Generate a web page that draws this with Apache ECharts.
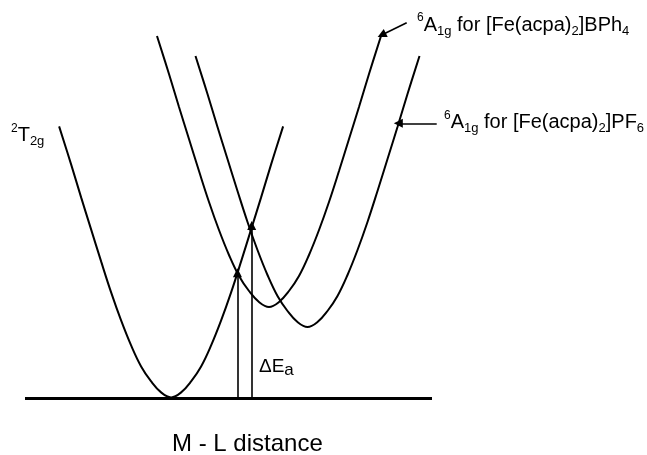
<!DOCTYPE html>
<html>
<head>
<meta charset="utf-8">
<script src="https://cdn.jsdelivr.net/npm/echarts@6/dist/echarts.min.js"></script>
<style>
  html, body { margin: 0; padding: 0; background: #fff; }
  #chart { width: 647px; height: 455px; }
</style>
</head>
<body>
<div id="chart"></div>
<script>
// ---- data (arbitrary units: x = M-L distance, y = energy) ----
const t2g = [[8.38,74.85],[11.33,64.40],[13.79,55.32],[16.24,46.52],[18.70,37.71],[21.16,29.19],[23.61,21.48],[26.07,14.61],[28.53,8.83],[30.99,4.70],[33.44,1.68],[35.90,0.30],[38.36,1.68],[40.81,4.70],[43.27,8.83],[45.73,14.61],[48.19,21.48],[50.64,29.19],[53.10,37.71],[55.56,46.52],[58.01,55.32],[60.47,64.40],[63.42,74.85]];
const a1gBPh4 = [[32.43,99.72],[35.38,89.27],[37.84,80.19],[40.29,71.39],[42.75,62.58],[45.21,54.06],[47.66,46.35],[50.12,39.48],[52.58,33.70],[55.04,29.57],[57.49,26.55],[59.95,25.17],[62.41,26.55],[64.86,29.57],[67.32,33.70],[69.78,39.48],[72.24,46.35],[74.69,54.06],[77.15,62.58],[79.61,71.39],[82.06,80.19],[84.52,89.27],[87.47,99.72]];
const a1gPF6 = [[41.89,94.22],[44.84,83.77],[47.30,74.69],[49.75,65.89],[52.21,57.08],[54.67,48.56],[57.12,40.85],[59.58,33.98],[62.04,28.20],[64.50,24.07],[66.95,21.05],[69.41,19.67],[71.87,21.05],[74.32,24.07],[76.78,28.20],[79.24,33.98],[81.70,40.85],[84.15,48.56],[86.61,57.08],[89.07,65.89],[91.52,74.69],[93.98,83.77],[96.93,94.22]];
const baseline = [[0,0],[100,0]];
// activation arrows: from baseline up to the crossing points
const crossBPh4 = [52.2, 34.6];
const crossPF6 = [55.7, 47.6];
// label pointer arrows [tail, tip]
const arrowBPh4 = [[93.78,103.38],[87.64,100.0]];
const arrowPF6 = [[101.16,75.71],[91.72,75.71]];
const labelT2g = '{sup|2}T{sub|2g}';
const labelBPh4 = '{sup|6}A{sub|1g} for [Fe(acpa){sub|2}]BPh{sub|4}';
const labelPF6 = '{sup|6}A{sub|1g} for [Fe(acpa){sub|2}]PF{sub|6}';
const labelEa = 'ΔE{sub|a}';
const axisTitle = 'M - L distance';

const FONT = "'Liberation Sans', Arial, Helvetica, sans-serif";
const richLbl = {
  sup: { fontSize: 12, lineHeight: 16, verticalAlign: 'top', fontFamily: FONT, fill: '#000' },
  sub: { fontSize: 13, lineHeight: 15, verticalAlign: 'bottom', fontFamily: FONT, fill: '#000' }
};
function txt(left, top, text, size, rich) {
  return {
    type: 'text', left: left, top: top, silent: true,
    style: { text: text, fontSize: size, lineHeight: 26, fontFamily: FONT, fill: '#000', rich: rich }
  };
}
const lineStyle = { color: '#000', width: 2 };
function curve(d) {
  return { type: 'line', data: d, smooth: 0.4, showSymbol: false, clip: false, silent: true,
           lineStyle: lineStyle, animation: false };
}
const arrowEnd = { symbol: 'triangle', symbolSize: 9 };
const chart = echarts.init(document.getElementById('chart'));
chart.setOption({
  animation: false,
  backgroundColor: '#fff',
  grid: { left: 25, right: 194.65, top: 16.825, bottom: 56.5 },
  xAxis: { type: 'value', min: 0, max: 105, show: false },
  yAxis: { type: 'value', min: 0, max: 105, show: false },
  series: [
    curve(t2g), curve(a1gBPh4), curve(a1gPF6),
    { type: 'line', data: baseline, showSymbol: false, silent: true, clip: false,
      lineStyle: { color: '#000', width: 2.8 },
      markLine: {
        silent: true, animation: false, label: { show: false },
        lineStyle: { color: '#000', width: 1.6, type: 'solid' },
        emphasis: { disabled: true },
        data: [
          [{ coord: [crossBPh4[0], 0], symbol: 'none' }, Object.assign({ coord: crossBPh4 }, arrowEnd)],
          [{ coord: [crossPF6[0], 0], symbol: 'none' }, Object.assign({ coord: crossPF6 }, arrowEnd)],
          [{ coord: arrowBPh4[0], symbol: 'none' }, Object.assign({ coord: arrowBPh4[1] }, arrowEnd)],
          [{ coord: arrowPF6[0], symbol: 'none' }, Object.assign({ coord: arrowPF6[1] }, arrowEnd)]
        ]
      }
    }
  ],
  graphic: [
    txt(11, 122.4, labelT2g, 20, richLbl),
    txt(417, 12.1, labelBPh4, 20, richLbl),
    txt(444, 109.4, labelPF6, 20, richLbl),
    txt(259, 353.3, labelEa, 19, { sub: { fontSize: 17, lineHeight: 16, verticalAlign: 'bottom', fontFamily: FONT, fill: '#000' } }),
    { type: 'text', left: 172, top: 432, silent: true,
      style: { text: axisTitle, fontSize: 24, fontFamily: FONT, fill: '#000' } }
  ]
});
</script>
</body>
</html>
